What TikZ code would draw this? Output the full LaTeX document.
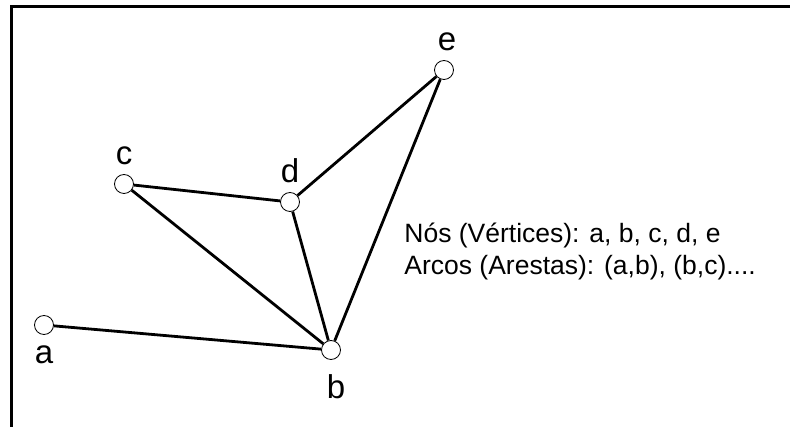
\documentclass[tikz,border=0pt]{standalone}
\usepackage{fontspec}
\setmainfont{Liberation Sans}
\usetikzlibrary{positioning}
\tikzset{
  every path/.style={
    black,
    line width=2.8pt
  },
  vertex/.style={
    draw,
    circle,
    fill=white,
    line width=0.8pt,
    minimum size=19pt,
    inner sep=0pt
  },
  vlabel/.style={
    font=\fontsize{33}{33}\selectfont,
    inner sep=0pt
  },
  legend/.style={
    font=\fontsize{26.5}{26.5}\selectfont,
    inner sep=0pt,
    anchor=base west
  }
}

\begin{document}
\begin{tikzpicture}[x=1pt,y=-1pt]
    \useasboundingbox (0,0) rectangle (790,427);
    % moldura
    \draw[line width=3pt] (11,427) -- (11,7) -- (790,7);

    % vértices
    \node[vertex] (a) at (44,325) {};
    \node[vertex] (b) at (331,350) {};
    \node[vertex] (c) at (124,184) {};
    \node[vertex] (d) at (290,202) {};
    \node[vertex] (e) at (444,70) {};

    % rótulos
    \node[vlabel,below=9pt of a] (la) {a};
    \node[vlabel,below=13pt of b,xshift=5pt] (lb) {b};
    \node[vlabel,above=8pt of c] (lc) {c};
    \node[vlabel,above=8pt of d] (ld) {d};
    \node[vlabel,above=8pt of e,xshift=3pt] (le) {e};

    % arcos
    \draw (a) -- (b);
    \draw (c) -- (b);
    \draw (c) -- (d);
    \draw (d) -- (b);
    \draw (d) -- (e);
    \draw (e) -- (b);

    % legenda
    \node[legend] (nos) at (403,243) {Nós (Vértices): a, b, c, d, e};
    \node[legend] (arcos) at (403,275) {Arcos (Arestas): (a,b), (b,c)....};
\end{tikzpicture}
\end{document}
